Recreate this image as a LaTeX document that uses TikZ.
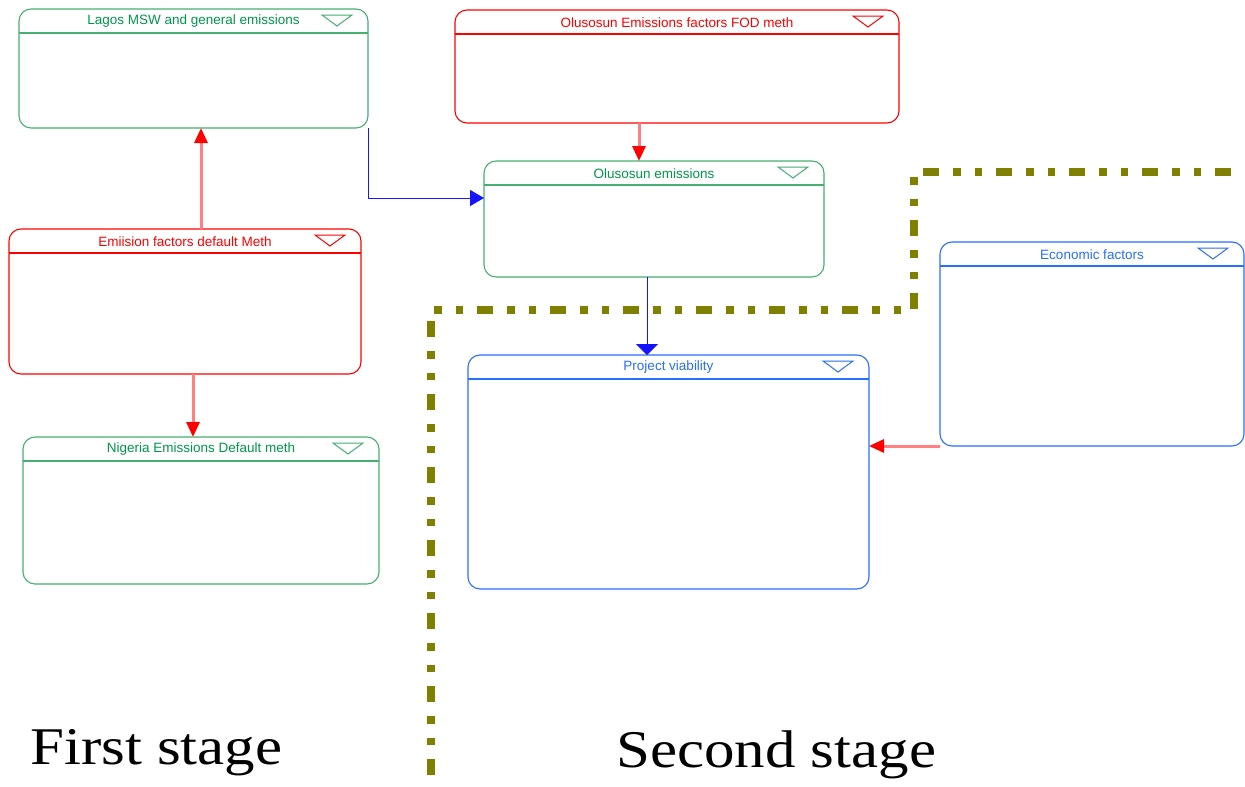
\documentclass[tikz,border=0pt]{standalone}
\usepackage{fontspec}
\setmainfont{Liberation Serif}
\setsansfont{Liberation Sans}
\usetikzlibrary{arrows.meta,calc}
\definecolor{pgreen}{RGB}{70,175,115}
\definecolor{tgreen}{RGB}{0,150,75}
\definecolor{pred}{RGB}{255,0,0}
\definecolor{pblue}{RGB}{40,110,255}
\definecolor{lred}{RGB}{255,128,128}
\definecolor{olivec}{RGB}{128,128,0}
\definecolor{cblue}{RGB}{20,20,255}
\tikzset{
  panel/.style={rectangle,rounded corners=12pt,line width=1.1pt,inner sep=0pt,outer sep=0pt,fill=white},
  titletext/.style={font=\sffamily\fontsize{13.5}{13.5}\selectfont,inner sep=0pt},
  redcon/.style={draw=lred,line width=3pt,-{Triangle[length=15pt,width=13pt,color=pred]}},
  bluecon/.style={draw=cblue,line width=1pt,-{Triangle[length=11pt,width=22pt,color=cblue]}},
  bluecon2/.style={draw=cblue,line width=1pt,-{Triangle[length=14pt,width=16pt,color=cblue]}},
  stageline/.style={draw=olivec,line width=7.5pt,dash pattern=on 16pt off 14pt on 7.5pt off 14pt on 7.5pt off 14pt},
  stagetext/.style={font=\fontsize{53}{53}\selectfont,inner sep=0pt,xscale=1.15}
}
\newcommand\mkpanel[8]{%
  \node[panel,draw=#6,minimum width={#4pt-#2pt},minimum height={#5pt-#3pt}] (#1) at ({(#2+#4)/2},{(#3+#5)/2}) {};
  \draw[#6,line width=1.1pt] ([yshift=-24pt]#1.north west) -- ([yshift=-24pt]#1.north east);
  \draw[#6,line width=1pt] ([xshift=-46pt,yshift=-6pt]#1.north east) -- ([xshift=-16pt,yshift=-6pt]#1.north east) -- ([xshift=-31pt,yshift=-17pt]#1.north east) -- cycle;
  \node[titletext,text=#7] (#1-title) at ([yshift=-12.5pt]#1.north) {#8};
}
\begin{document}
\begin{tikzpicture}[x=1pt,y=-1pt]
\useasboundingbox (0,0) rectangle (1245,787);
% stage separator
\draw[stageline] (431,775) -- (431,310) -- (914,310) -- (914,172) -- (1245,172);
% panels
\mkpanel{lagos}{19}{9}{368}{128}{pgreen}{tgreen}{Lagos MSW and general emissions}
\mkpanel{fod}{455}{10}{899}{123}{pred}{pred}{Olusosun Emissions factors FOD meth}
\mkpanel{olu}{484}{161}{824}{277}{pgreen}{tgreen}{Olusosun emissions}
\mkpanel{emi}{9}{229}{361}{374}{pred}{pred}{Emiision factors default Meth}
\mkpanel{nig}{23}{437}{379}{584}{pgreen}{tgreen}{Nigeria Emissions Default meth}
\mkpanel{econ}{940}{242}{1244}{446}{pblue}{pblue}{Economic factors}
\mkpanel{proj}{468}{355}{869}{589}{pblue}{pblue}{Project viability}
% connectors
\draw[redcon] ([xshift=16pt]emi.north) -- ([xshift=16pt]emi.north |- lagos.south);
\draw[redcon] ([xshift=8pt]emi.south) -- ([xshift=8pt]emi.south |- nig.north);
\draw[redcon] ([xshift=-38pt]fod.south) -- ([xshift=-38pt]fod.south |- olu.north);
\draw[redcon] (econ.south west) -- (econ.south west -| proj.east);
\draw[bluecon] ([xshift=-7pt]olu.south) -- ([xshift=-7pt]olu.south |- proj.north);
\draw[bluecon2] (lagos.south east) |- ([yshift=21pt]olu.west);
% stage labels
\node[stagetext,anchor=base west] (first) at (30,764) {First stage};
\node[stagetext,anchor=base west] (second) at (616,767) {Second stage};
\end{tikzpicture}
\end{document}
